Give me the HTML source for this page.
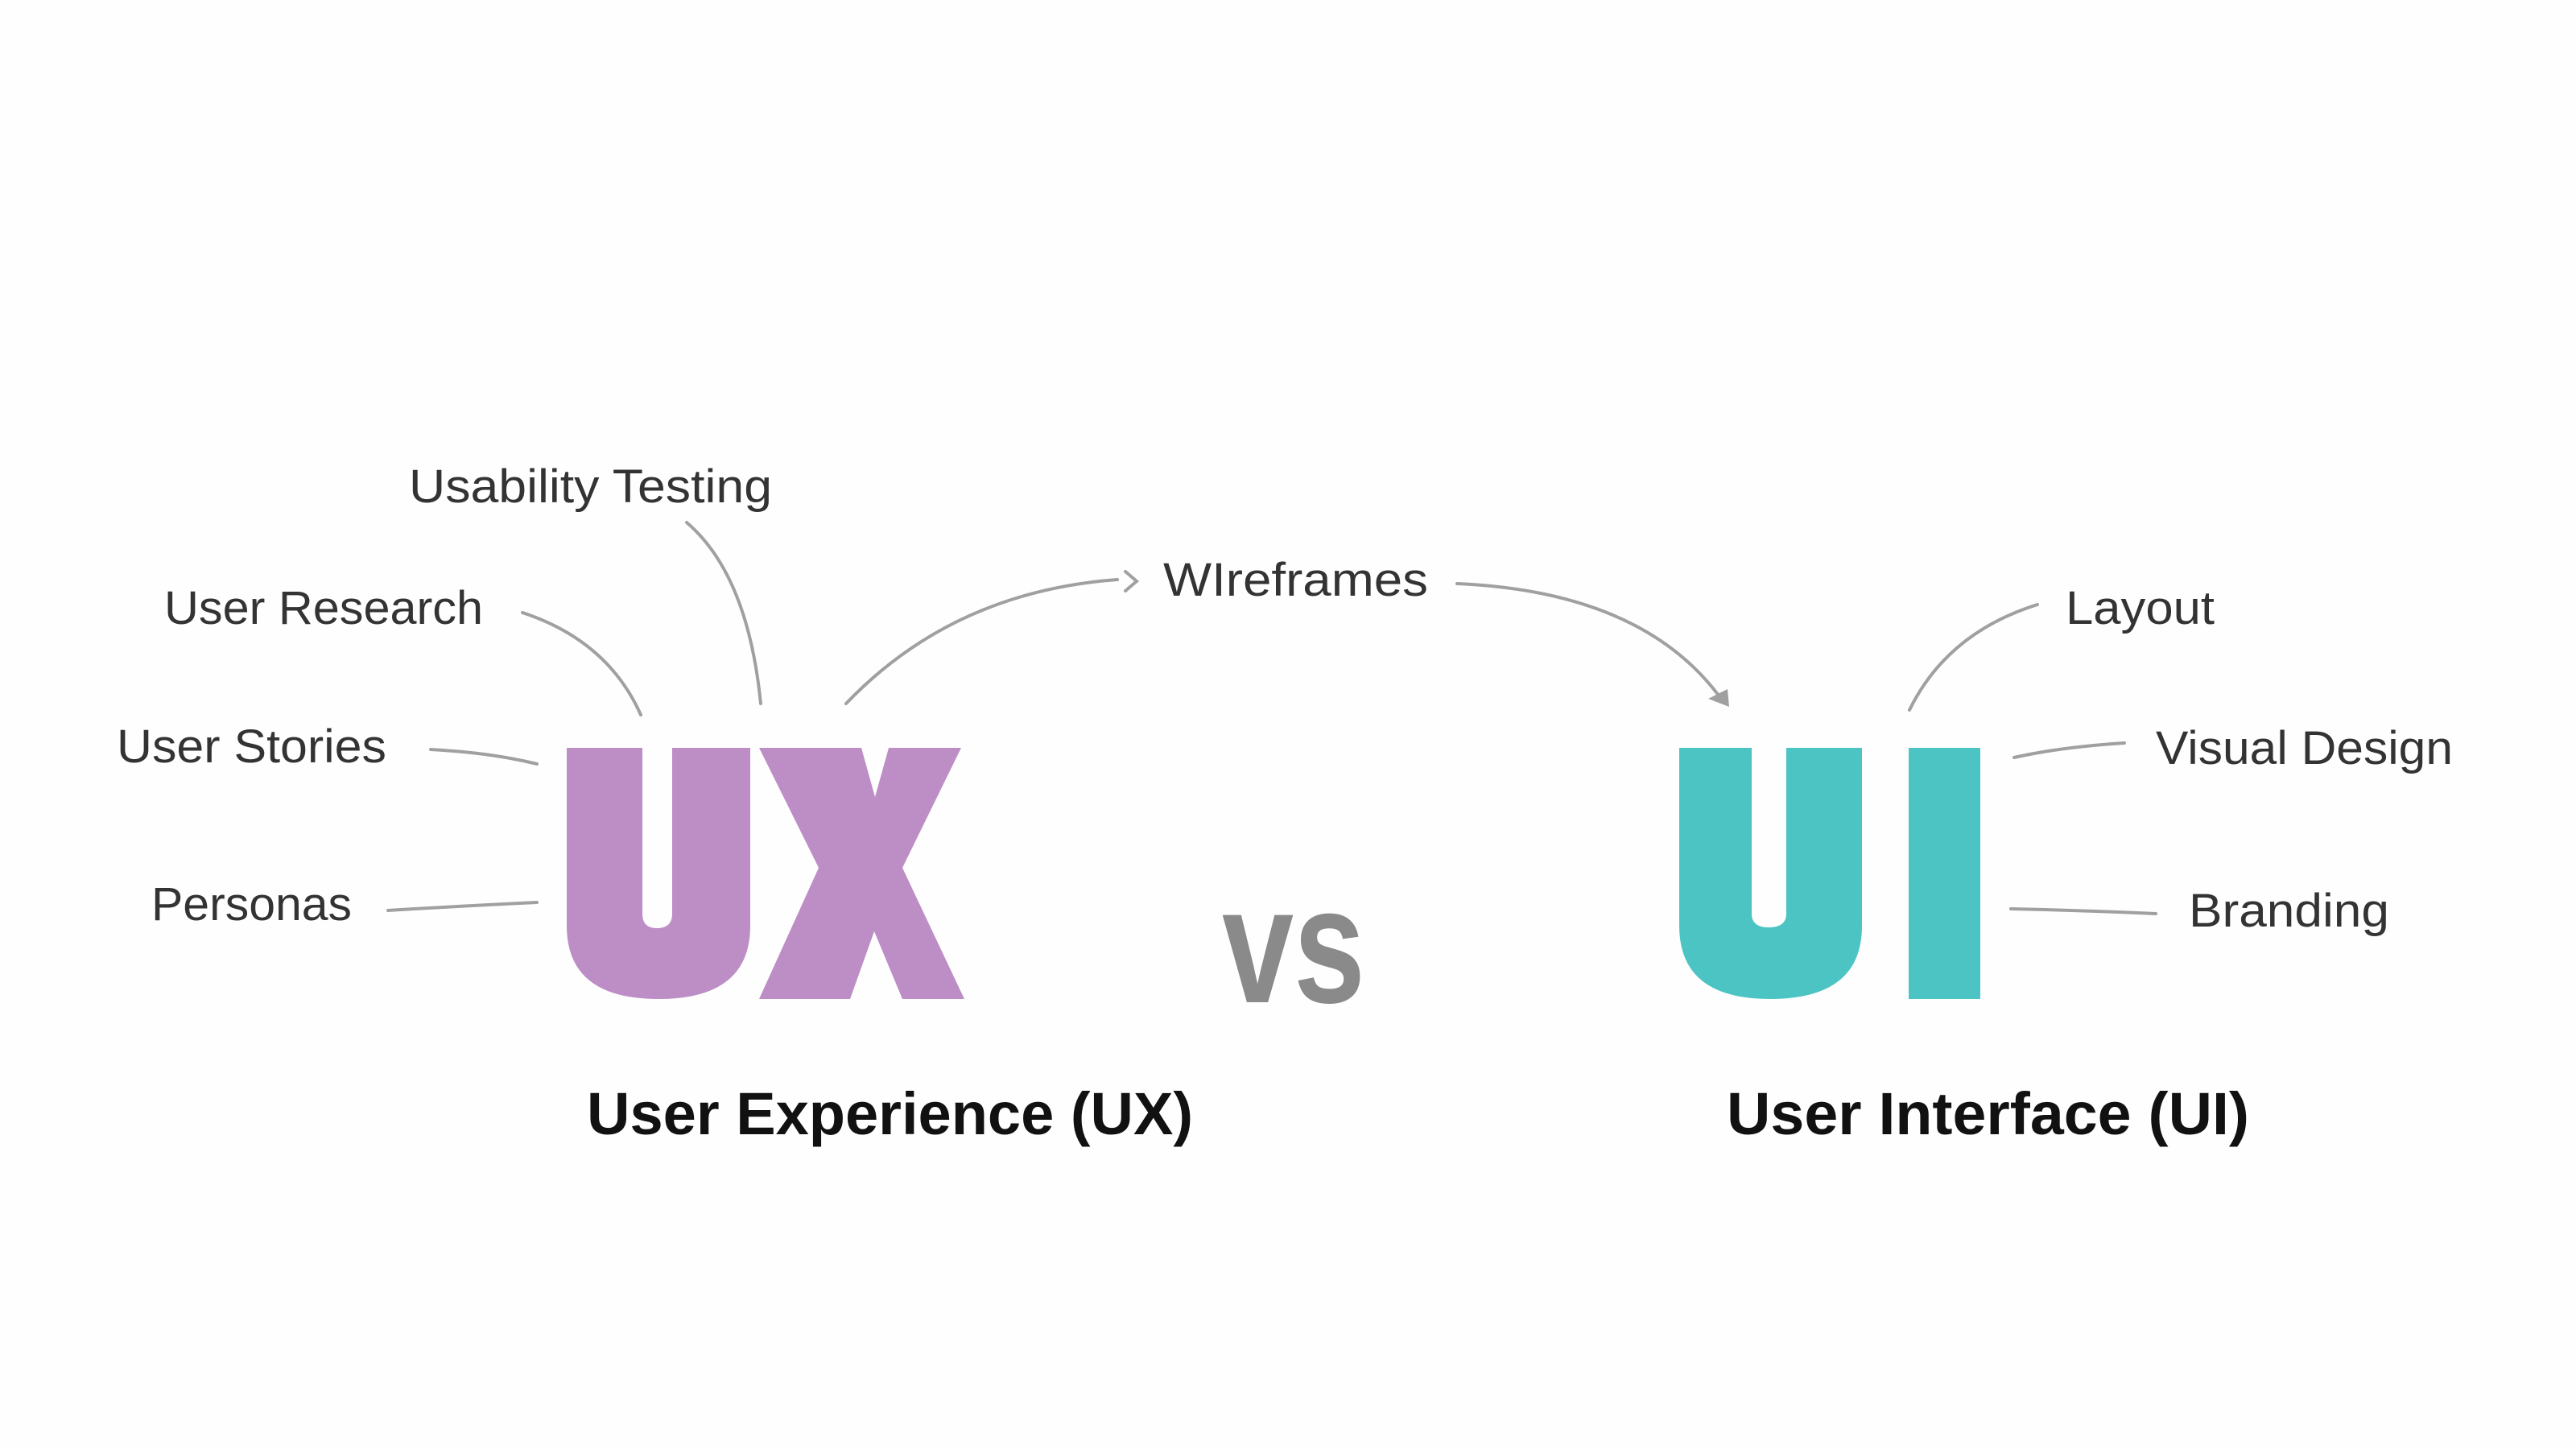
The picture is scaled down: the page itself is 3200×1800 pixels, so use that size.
<!DOCTYPE html>
<html><head><meta charset="utf-8"><style>
html,body{margin:0;padding:0;background:#fefefe;}
svg{display:block;}
text{font-family:"Liberation Sans",sans-serif;}
</style></head><body>
<svg width="3200" height="1800" viewBox="0 0 3200 1800" xmlns="http://www.w3.org/2000/svg">
<rect width="3200" height="1800" fill="#fefefe"/>
<!-- UX U -->
<path fill="#bd8ec6" d="M704 929 H798 V1135 Q798 1153 816 1153 Q835 1153 835 1135 V929 H932 V1150 Q932 1241 818 1241 Q704 1241 704 1150 Z"/>
<!-- UX X -->
<path fill="#bd8ec6" d="M943 929 L1070 929 L1087 990 L1104 929 L1194 929 L1121 1078 L1198 1241 L1121 1241 L1086 1157 L1056 1241 L943 1241 L1017 1078 Z"/>
<!-- UI U -->
<path fill="#4cc4c3" d="M2086 929 H2176 V1135 Q2176 1152 2197 1152 Q2219 1152 2219 1135 V929 H2313 V1150 Q2313 1241 2199 1241 Q2086 1241 2086 1150 Z"/>
<rect x="2371" y="929" width="89" height="312" fill="#4cc4c3"/>
<!-- vs -->
<text x="1607" y="1245" font-size="205" font-weight="bold" fill="#8a8a8a" text-anchor="middle" transform="translate(1607 0) scale(0.78 1) translate(-1607 0)">vs</text>
<!-- connectors -->
<g fill="none" stroke="#a0a0a0" stroke-width="4" stroke-linecap="round">
<path d="M649 761 Q755 796 796 888"/>
<path d="M853 649 Q929 714 945 874"/>
<path d="M535 931 Q610 935 667 949"/>
<path d="M482 1131 Q580 1125 667 1121"/>
<path d="M1051 874 Q1184 735 1388 720"/>
<path d="M1398 710 L1412 722 L1398 734"/>
<path d="M1810 725 Q2041 735 2138 868"/>
<path d="M2531 751 Q2419 786 2372 882"/>
<path d="M2639 923 Q2560 928 2502 941"/>
<path d="M2678 1135 Q2590 1131 2498 1129"/>
</g>
<path d="M2148 878 L2122 868 L2146 856 Z" fill="#a0a0a0"/>
<!-- labels -->
<g font-size="58" fill="#333">
<text x="508" y="624" textLength="451" lengthAdjust="spacingAndGlyphs">Usability Testing</text>
<text x="204" y="775" textLength="396" lengthAdjust="spacingAndGlyphs">User Research</text>
<text x="145" y="947" textLength="335" lengthAdjust="spacingAndGlyphs">User Stories</text>
<text x="188" y="1143" textLength="249" lengthAdjust="spacingAndGlyphs">Personas</text>
<text x="1445" y="740" textLength="329" lengthAdjust="spacingAndGlyphs">WIreframes</text>
<text x="2566" y="775" textLength="185" lengthAdjust="spacingAndGlyphs">Layout</text>
<text x="2678" y="949" textLength="369" lengthAdjust="spacingAndGlyphs">Visual Design</text>
<text x="2719" y="1151" textLength="249" lengthAdjust="spacingAndGlyphs">Branding</text>
</g>
<g font-size="74" font-weight="bold" fill="#111">
<text x="729" y="1409" textLength="753" lengthAdjust="spacingAndGlyphs">User Experience (UX)</text>
<text x="2145" y="1409" textLength="649" lengthAdjust="spacingAndGlyphs">User Interface (UI)</text>
</g>
</svg>
</body></html>
